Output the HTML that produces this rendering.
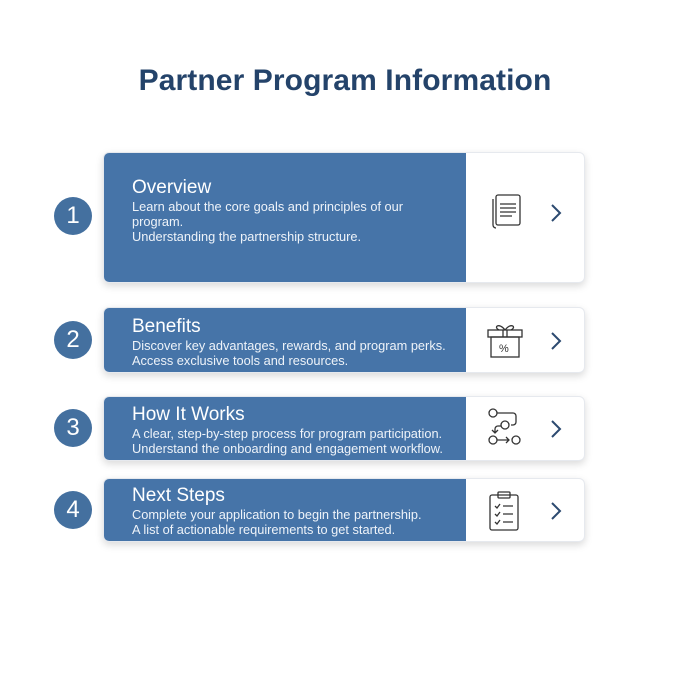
<!DOCTYPE html>
<html><head><meta charset="utf-8"><style>
body{margin:0;width:690px;height:690px;background:#fff;font-family:"Liberation Sans",sans-serif;position:relative;overflow:hidden}
h1{position:absolute;top:64px;left:0;width:690px;text-align:center;margin:0;font-size:30px;font-weight:600;color:#24436a;letter-spacing:0.1px}
.num{position:absolute;left:54px;width:38px;height:38px;border-radius:50%;background:#44709f;color:#fff;font-size:24px;text-align:center;line-height:38px}
.card{position:absolute;left:103px;width:482px;border-radius:6px;background:#fff;box-shadow:0 3px 8px rgba(0,0,0,0.15);border:1px solid #e6e9ee;box-sizing:border-box;overflow:hidden}
.blue{position:absolute;left:0;top:0;bottom:0;width:362px;background:#4674a8;color:#fff;padding-left:28px;box-sizing:border-box}
.t{font-size:19px;margin-top:0}
.d{font-size:12.8px;line-height:15px;color:#eef3f9}
.ic{position:absolute;left:383px}
.ch{position:absolute;left:445px;color:#2c4a70}
</style></head><body>
<h1>Partner Program Information</h1>

<div class="num" style="top:197px">1</div>
<div class="card" style="top:152px;height:131px"><div class="blue" style="padding-top:24px"><div class="t">Overview</div><div class="d">Learn about the core goals and principles of our<br>program.<br>Understanding the partnership structure.</div></div>
<svg class="ic" style="top:36px" width="40" height="40" viewBox="0 0 40 40" fill="none" stroke="#333" stroke-width="1.3"><rect x="9" y="6" width="24" height="30" rx="2"/><path d="M6 10v26a3 3 0 0 0 3 3"/><path d="M13 15h16M13 19h16M13 23h16M13 27h12"/></svg>
<svg class="ch" style="top:50px" width="14" height="20"><path d="M3 2l8 8-8 8" fill="none" stroke="#2c4a70" stroke-width="2"/></svg></div>

<div class="num" style="top:321px">2</div>
<div class="card" style="top:307px;height:66px"><div class="blue" style="padding-top:8px"><div class="t">Benefits</div><div class="d">Discover key advantages, rewards, and program perks.<br>Access exclusive tools and resources.</div></div>
<svg class="ic" style="top:13px" width="38" height="40" viewBox="0 0 38 40" fill="none" stroke="#333" stroke-width="1.3"><rect x="1" y="9" width="34" height="7"/><rect x="4" y="16" width="28" height="20"/><path d="M16 9v7M20 9v7"/><path d="M18 9c-6-8-12-3-6 0M18 9c6-8 12-3 6 0"/><text x="12" y="31" font-size="11" fill="#333" stroke="none" font-family="Liberation Sans">%</text></svg>
<svg class="ch" style="top:23px" width="14" height="20"><path d="M3 2l8 8-8 8" fill="none" stroke="#2c4a70" stroke-width="2"/></svg></div>

<div class="num" style="top:409px">3</div>
<div class="card" style="top:396px;height:65px"><div class="blue" style="padding-top:7px"><div class="t">How It Works</div><div class="d">A clear, step-by-step process for program participation.<br>Understand the onboarding and engagement workflow.</div></div>
<svg class="ic" style="top:10px" width="42" height="44" viewBox="0 0 42 44" fill="none" stroke="#333" stroke-width="1.3"><circle cx="6" cy="6" r="4"/><path d="M10 6h16a3 3 0 0 1 3 3v6a3 3 0 0 1-3 3h-2"/><circle cx="18" cy="18" r="4"/><path d="M14 19h-3a3 3 0 0 0-3 3v4M5 23l3 3 3-3"/><circle cx="6" cy="33" r="4"/><path d="M10 33h12M19 30l3 3-3 3"/><circle cx="29" cy="33" r="4"/></svg>
<svg class="ch" style="top:22px" width="14" height="20"><path d="M3 2l8 8-8 8" fill="none" stroke="#2c4a70" stroke-width="2"/></svg></div>

<div class="num" style="top:491px">4</div>
<div class="card" style="top:478px;height:64px"><div class="blue" style="padding-top:6px"><div class="t">Next Steps</div><div class="d">Complete your application to begin the partnership.<br>A list of actionable requirements to get started.</div></div>
<svg class="ic" style="top:10px" width="36" height="44" viewBox="0 0 36 44" fill="none" stroke="#333" stroke-width="1.3"><rect x="3" y="6" width="28" height="35" rx="2"/><rect x="11" y="3" width="12" height="6" rx="1"/><path d="M8 17l2 2 3-4M16 17h10M8 25l2 2 3-4M16 25h10M8 33l2 2 3-4M16 33h10"/></svg>
<svg class="ch" style="top:22px" width="14" height="20"><path d="M3 2l8 8-8 8" fill="none" stroke="#2c4a70" stroke-width="2"/></svg></div>
</body></html>
